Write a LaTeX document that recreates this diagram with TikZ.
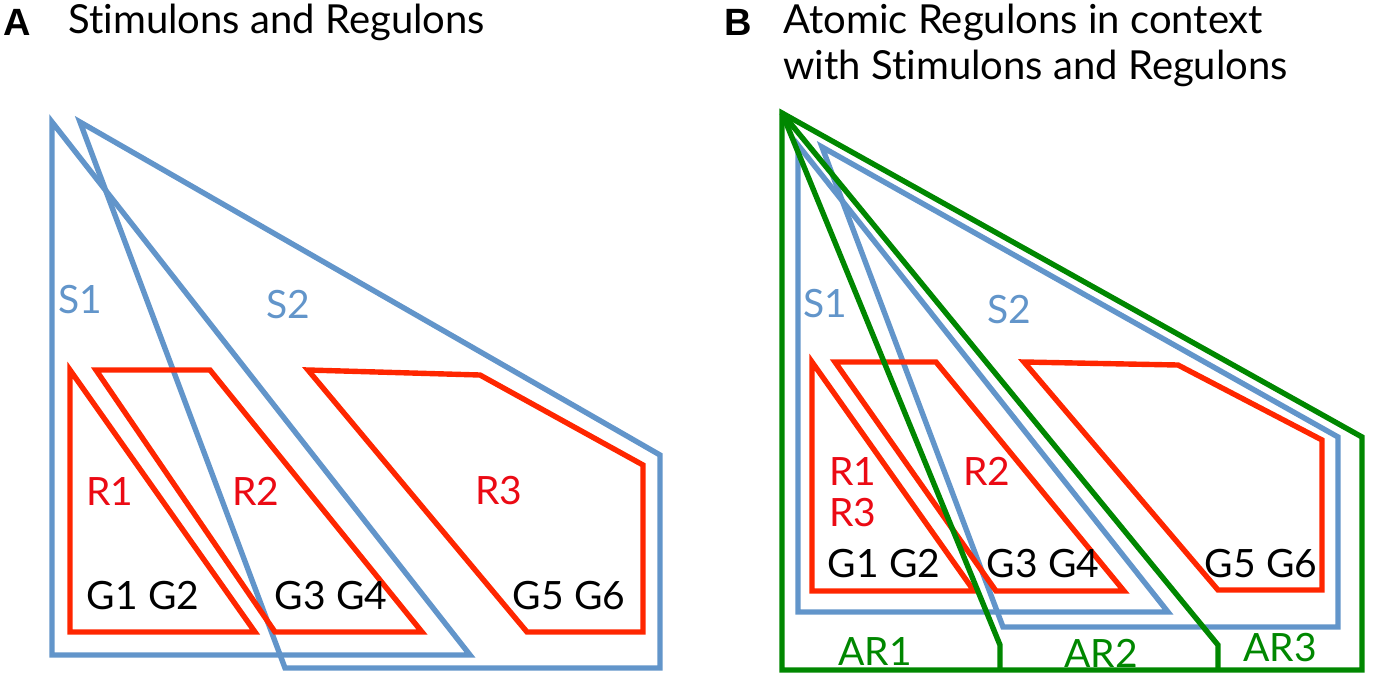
\documentclass[tikz,border=0pt]{standalone}
\usepackage{fontspec}
\setmainfont[Ligatures=NoCommon]{Lato}
\newfontfamily\panfont{Liberation Sans}
\definecolor{sblue}{RGB}{98,149,202}
\definecolor{rred}{RGB}{255,38,0}
\definecolor{rtext}{RGB}{235,10,20}
\definecolor{agreen}{RGB}{0,135,0}
\begin{document}
\begin{tikzpicture}[x=0.5pt,y=-0.5pt,
  stim/.style={draw=sblue,line width=2.7pt,line join=miter},
  reg/.style={draw=rred,line width=2.7pt,line join=miter},
  atom/.style={draw=agreen,line width=2.7pt,line join=miter},
  lbl/.style={inner sep=0pt,font=\fontsize{19.5}{22}\selectfont},
  slbl/.style={lbl,text=sblue},
  rlbl/.style={lbl,text=rtext},
  glbl/.style={lbl,text=black},
  albl/.style={lbl,text=agreen},
  ttl/.style={inner sep=0pt,anchor=west,font=\fontsize{20}{24}\selectfont},
  pan/.style={inner sep=0pt,font=\fontsize{19}{22}\selectfont\panfont\bfseries}]
\useasboundingbox (0,0) rectangle (1377,692);
% ---------- Panel A ----------
\node[pan] (pA) at (17,22) {A};
\node[ttl] (tA) at (68,22) {Stimulons and Regulons};
\draw[stim] (52,122) -- (52,655) -- (470,655) -- cycle;
\draw[stim] (80,122) -- (285,668) -- (660,668) -- (660,455) -- cycle;
\draw[reg] (70,370) -- (70,632) -- (255,632) -- cycle;
\draw[reg] (96,370) -- (210,370) -- (422,632) -- (275,632) -- cycle;
\draw[reg] (308,370) -- (480,375) -- (643,465) -- (643,632) -- (527,632) -- cycle;
\node[slbl] (aS1) at (80,300) {S1};
\node[slbl] (aS2) at (288,305) {S2};
\node[rlbl] (aR1) at (110,491) {R1};
\node[rlbl] (aR2) at (256,491) {R2};
\node[rlbl] (aR3) at (499,491) {R3};
\node[glbl] (aG12) at (143,596) {G1 G2};
\node[glbl] (aG34) at (331,596) {G3 G4};
\node[glbl] (aG56) at (569,596) {G5 G6};
% ---------- Panel B ----------
\node[pan] (pB) at (738,22) {B};
\node[ttl] (tB1) at (783,22) {Atomic Regulons in context};
\node[ttl] (tB2) at (783,68) {with Stimulons and Regulons};
\draw[stim] (798,145) -- (798,612) -- (1168,612) -- cycle;
\draw[stim] (822,147) -- (1003,627) -- (1338,627) -- (1338,437) -- cycle;
\draw[reg] (812,362) -- (812,591) -- (974,591) -- cycle;
\draw[reg] (835,362) -- (936,362) -- (1124,591) -- (996,591) -- cycle;
\draw[reg] (1024,362) -- (1178,365) -- (1322,440) -- (1322,590) -- (1218,590) -- cycle;
\coordinate (apex) at (782,113);
\draw[atom] (apex) -- (782,670) -- (1362,670) -- (1362,437) -- cycle;
\draw[atom] (apex) -- (1000,645) -- (1000,670);
\draw[atom] (apex) -- (1218,645) -- (1218,670);
\node[slbl] (bS1) at (825,304) {S1};
\node[slbl] (bS2) at (1009,310) {S2};
\node[rlbl] (bR1) at (853,471) {R1};
\node[rlbl] (bR3) at (853,513) {R3};
\node[rlbl] (bR2) at (987,471) {R2};
\node[glbl] (bG12) at (884,564) {G1 G2};
\node[glbl] (bG34) at (1043,564) {G3 G4};
\node[glbl] (bG56) at (1261,564) {G5 G6};
\node[albl] (bA1) at (875,651) {AR1};
\node[albl] (bA2) at (1101,653) {AR2};
\node[albl] (bA3) at (1280,648) {AR3};
\end{tikzpicture}
\end{document}
